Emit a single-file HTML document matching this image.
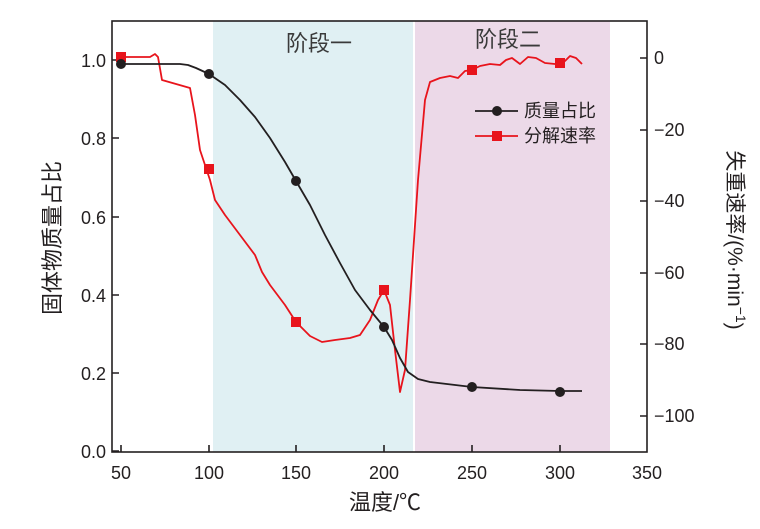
<!DOCTYPE html>
<html><head><meta charset="utf-8"><style>
html,body{margin:0;padding:0;background:#fff;}
svg{display:block;font-family:"Liberation Sans","Noto Sans CJK SC",sans-serif;}
</style></head><body>
<svg width="760" height="529" viewBox="0 0 760 529" xmlns="http://www.w3.org/2000/svg">
<rect x="213" y="21" width="200" height="431" fill="#e0f0f3"/>
<rect x="415" y="21" width="195" height="431" fill="#ecd9e8"/>
<g stroke="#231f20" stroke-width="1.6" fill="none">
<rect x="112" y="21" width="535" height="431"/>
<path d="M112 451h7M112 373h7M112 295h7M112 217h7M112 138h7M112 60h7"/>
<path d="M121 452v-7M209 452v-7M296 452v-7M384 452v-7M472 452v-7M560 452v-7"/>
<path d="M647 58h-7M647 130h-7M647 201h-7M647 273h-7M647 344h-7M647 416h-7"/>
</g>
<g font-size="18" fill="#231f20" text-anchor="end">
<text x="106" y="458">0.0</text><text x="106" y="380">0.2</text><text x="106" y="302">0.4</text><text x="106" y="224">0.6</text><text x="106" y="145">0.8</text><text x="106" y="67">1.0</text>
</g>
<g font-size="18" fill="#231f20" text-anchor="start">
<text x="654" y="64">0</text><text x="654" y="136">−20</text><text x="654" y="207">−40</text><text x="654" y="279">−60</text><text x="654" y="350">−80</text><text x="654" y="422">−100</text>
</g>
<g font-size="18" fill="#231f20" text-anchor="middle">
<text x="121" y="479">50</text><text x="209" y="479">100</text><text x="296" y="479">150</text><text x="384" y="479">200</text><text x="472" y="479">250</text><text x="560" y="479">300</text><text x="647" y="479">350</text>
</g>
<text x="385" y="510" font-size="22" fill="#231f20" text-anchor="middle">温度/℃</text>
<text transform="translate(60,238) rotate(-90)" font-size="22" fill="#231f20" text-anchor="middle">固体物质量占比</text>
<text transform="translate(728,240) rotate(90)" font-size="21" fill="#231f20" text-anchor="middle">失重速率/(%·min<tspan dy="-8" font-size="14">−1</tspan><tspan dy="8">)</tspan></text>
<text x="319" y="51" font-size="22" fill="#3a3a3a" text-anchor="middle">阶段一</text>
<text x="508" y="47" font-size="22" fill="#3a3a3a" text-anchor="middle">阶段二</text>
<polyline fill="none" stroke="#e8141c" stroke-width="1.8" stroke-linejoin="round" points="121,57 150,57 155,54 158,57 162,80 190,88 195,115 200,150 205,165 210,180 215,200 225,215 240,235 255,255 262,272 270,285 285,305 296,322 310,336 322,342 335,340 350,338 360,335 370,320 378,300 384,290 390,305 395,350 400,392 405,370 410,300 418,180 425,100 430,82 440,78 450,76 458,78 465,71 472,70 480,66 490,64 500,65 506,60 512,58 520,64 528,57 536,58 545,63 555,64 565,61 570,56 576,58 582,64"/>
<polyline fill="none" stroke="#231f20" stroke-width="1.8" stroke-linejoin="round" points="121,64 180,64 188,65 196,68 209,74 225,85 240,100 255,117 270,138 285,162 296,181 310,205 325,235 340,263 355,290 370,310 384,327 392,340 400,358 408,372 418,379 430,382 472,387 520,390 560,391 582,391"/>
<g fill="#e8141c">
<rect x="116" y="52" width="10" height="10"/><rect x="204" y="164" width="10" height="10"/><rect x="291" y="317" width="10" height="10"/><rect x="379" y="285" width="10" height="10"/><rect x="467" y="65" width="10" height="10"/><rect x="555" y="58" width="10" height="10"/>
</g>
<g fill="#231f20">
<circle cx="121" cy="64" r="5"/><circle cx="209" cy="74" r="5"/><circle cx="296" cy="181" r="5"/><circle cx="384" cy="327" r="5"/><circle cx="472" cy="387" r="5"/><circle cx="560" cy="392" r="5"/>
</g>
<line x1="475" y1="111" x2="518" y2="111" stroke="#231f20" stroke-width="1.8"/>
<circle cx="497" cy="111" r="5" fill="#231f20"/>
<line x1="475" y1="136" x2="518" y2="136" stroke="#e8141c" stroke-width="1.8"/>
<rect x="492" y="131" width="10" height="10" fill="#e8141c"/>
<text x="524" y="117" font-size="18" fill="#231f20">质量占比</text>
<text x="524" y="142" font-size="18" fill="#231f20">分解速率</text>
</svg>
</body></html>
